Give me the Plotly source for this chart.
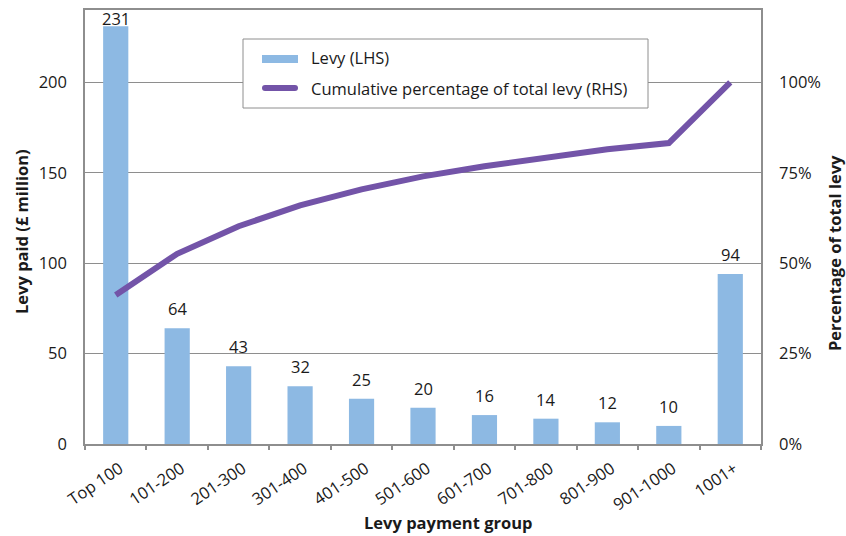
import plotly.graph_objects as go

categories = ["Top 100", "101-200", "201-300", "301-400", "401-500", "501-600",
              "601-700", "701-800", "801-900", "901-1000", "1001+"]
levy = [231, 64, 43, 32, 25, 20, 16, 14, 12, 10, 94]
cum_pct = [41.2, 52.6, 60.2, 66.0, 70.4, 74.0, 76.8, 79.3, 81.5, 83.2, 100.0]
left_ticks = [0, 50, 100, 150, 200]
right_ticks = [0, 25, 50, 75, 100]
right_labels = ["0%", "25%", "50%", "75%", "100%"]
bar_name = "Levy (LHS)"
line_name = "Cumulative percentage of total levy (RHS)"

FONT = "Open Sans"
FS = 16.5
GRID = "#8e8e8e"
TXT = "#1a1a1a"
BAR_C = "#8DB9E3"
LINE_C = "#7354A8"

W, H = 846, 536
L, R, T, B = 85, 85, 10, 92
pw, ph = W - L - R, H - T - B
Y_MAX = 240


def px(x):
    return (x - L) / pw


def py(y):
    return (H - B - y) / ph


fig = go.Figure()
fig.add_trace(go.Bar(
    x=categories, y=levy, name=bar_name, showlegend=False,
    marker=dict(color=BAR_C, line=dict(width=0)),
))
fig.add_trace(go.Scatter(
    x=categories, y=cum_pct, name=line_name, showlegend=False,
    mode="lines", yaxis="y2",
    line=dict(color=LINE_C, width=6),
))

# manual legend
shapes = [
    dict(type="rect", xref="paper", yref="paper",
         x0=px(243), x1=px(648), y0=py(108), y1=py(39),
         fillcolor="white", line=dict(color=GRID, width=1), layer="above"),
    dict(type="rect", xref="paper", yref="paper",
         x0=px(262), x1=px(298), y0=py(63), y1=py(55),
         fillcolor=BAR_C, line=dict(width=0), layer="above"),
    dict(type="line", xref="paper", yref="paper",
         x0=px(265), x1=px(295), y0=py(88), y1=py(88),
         line=dict(color=LINE_C, width=6), layer="above"),
    dict(type="circle", xref="paper", yref="paper",
         x0=px(262), x1=px(268), y0=py(91), y1=py(85),
         fillcolor=LINE_C, line=dict(width=0), layer="above"),
    dict(type="circle", xref="paper", yref="paper",
         x0=px(292), x1=px(298), y0=py(91), y1=py(85),
         fillcolor=LINE_C, line=dict(width=0), layer="above"),
]
annotations = [
    dict(text=bar_name, xref="paper", yref="paper", x=px(309), y=py(58),
         xanchor="left", yanchor="middle", showarrow=False,
         font=dict(family=FONT, size=FS, color=TXT)),
    dict(text=line_name, xref="paper", yref="paper", x=px(309), y=py(88),
         xanchor="left", yanchor="middle", showarrow=False,
         font=dict(family=FONT, size=FS, color=TXT)),
    dict(text="<b>Levy paid (£ million)</b>", xref="paper", yref="paper",
         x=px(21), y=py(232), textangle=-90, showarrow=False,
         xanchor="center", yanchor="middle",
         font=dict(family=FONT, size=FS, color=TXT)),
    dict(text="<b>Percentage of total levy</b>", xref="paper", yref="paper",
         x=px(834), y=py(253), textangle=-90, showarrow=False,
         xanchor="center", yanchor="middle",
         font=dict(family=FONT, size=FS, color=TXT)),
    dict(text="<b>Levy payment group</b>", xref="paper", yref="paper",
         x=px(448), y=py(522), showarrow=False,
         xanchor="center", yanchor="middle",
         font=dict(family=FONT, size=FS, color=TXT)),
]

# value labels above bars (kept inside the plot top, as in the reference)
ppu = ph / Y_MAX
DESC = 6      # gap between annotation box bottom and digit baseline
GAP = 12      # desired gap between digits and bar top
for c, v in zip(categories, levy):
    space = (Y_MAX - v) * ppu          # px between bar top and plot top
    gap = max(0.0, min(GAP, space - 16))
    annotations.append(dict(
        x=c, y=v, xref="x", yref="y", text=str(v), showarrow=False,
        xanchor="center", yanchor="bottom", yshift=gap - DESC,
        font=dict(family=FONT, size=FS, color=TXT),
    ))

fig.update_layout(
    width=W, height=H,
    margin=dict(l=L, r=R, t=T, b=B, autoexpand=False),
    plot_bgcolor="white", paper_bgcolor="white",
    font=dict(family=FONT, size=FS, color=TXT),
    bargap=0.59,
    showlegend=False,
    shapes=shapes,
    annotations=annotations,
    xaxis=dict(
        type="category", tickangle=-34, tickson="boundaries",
        ticks="outside", ticklen=4, tickcolor=GRID, tickwidth=1.5,
        showline=True, linecolor=GRID, linewidth=1.5, mirror=True,
        showgrid=False, automargin=False,
        ticklabelstandoff=7, ticklabelshift=4,
        tickfont=dict(family=FONT, size=FS, color=TXT),
    ),
    yaxis=dict(
        range=[0, Y_MAX], tickvals=left_ticks,
        showgrid=True, gridcolor=GRID, gridwidth=1,
        showline=True, linecolor=GRID, linewidth=1.5,
        ticks="", ticklabelstandoff=13, zeroline=False, automargin=False,
        tickfont=dict(family=FONT, size=FS, color=TXT),
    ),
    yaxis2=dict(
        range=[0, Y_MAX / 2], tickvals=right_ticks, ticktext=right_labels,
        overlaying="y", side="right",
        showgrid=False, showline=True, linecolor=GRID, linewidth=1.5,
        ticks="", ticklabelstandoff=13, zeroline=False, automargin=False,
        tickfont=dict(family=FONT, size=FS, color=TXT),
    ),
)

fig.write_html(
    "out.html",
    config={"displayModeBar": False},
    post_script="document.body.style.margin='0px';document.body.style.overflow='hidden';",
)
